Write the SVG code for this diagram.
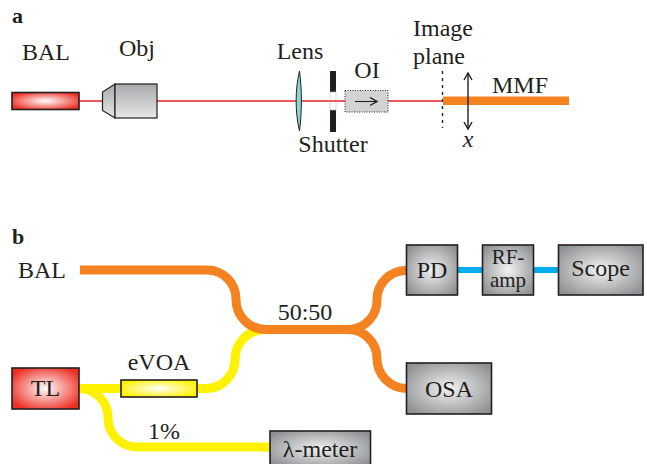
<svg xmlns="http://www.w3.org/2000/svg" width="647" height="464" viewBox="0 0 647 464">
<style>
text{font-family:"Liberation Serif","Times New Roman",serif;font-size:24px;fill:#231f20;text-anchor:middle}
.h{font-weight:bold;font-size:22px;text-anchor:start}
.box{stroke:#231f20;stroke-width:1.600;fill:url(#grey)}
.red{stroke:#231f20;stroke-width:1.600;fill:url(#redg)}
.f{fill:none;stroke-width:9}
.or{stroke:#f58220}.ye{stroke:#fff200}.bl{stroke:#00aeef;stroke-width:6;fill:none}
.beam{stroke:#e8222a;stroke-width:1.500;fill:none}
.k{stroke:#231f20;fill:none;stroke-width:1.400}
</style>
<defs>
<radialGradient id="grey" cx="50%" cy="50%" r="62%"><stop offset="0" stop-color="#f1f2f2"/><stop offset="1" stop-color="#8f9194"/></radialGradient>
<radialGradient id="redg" cx="50%" cy="50%" r="62%"><stop offset="0" stop-color="#fff"/><stop offset="0.95" stop-color="#ed2f24"/></radialGradient>
<radialGradient id="yg" cx="50%" cy="50%" r="60%"><stop offset="0" stop-color="#fff"/><stop offset="0.95" stop-color="#fff200"/></radialGradient>
<linearGradient id="og" x1="0" y1="0" x2="0" y2="1"><stop offset="0" stop-color="#a7a9ac"/><stop offset="1" stop-color="#e6e7e8"/></linearGradient>
<marker id="ah" markerWidth="10" markerHeight="10" refX="8" refY="5" orient="auto-start-reverse" markerUnits="userSpaceOnUse"><path d="M1 1L8 5L1 9" fill="none" stroke="#231f20" stroke-width="1.400"/></marker>
</defs>
<text class="h" x="12" y="23">a</text>
<text class="h" x="12" y="244">b</text>
<g id="connectors">
<path class="beam" d="M79 101H103M157 101H345M388 101H443"/>
<path class="f ye" d="M197 388.500H206A29 29 0 0 0 235 359.500A30 30 0 0 1 264 329.500"/>
<path class="f or" d="M80 270H207A29 29 0 0 1 236 299A30 30 0 0 0 266 329.500H348"/>
<path class="f or" d="M348 329.500A29 29 0 0 0 377 299.500A29 29 0 0 1 406 270.500"/>
<path class="f or" d="M348 329.500A29 29 0 0 1 377 358.500A30 30 0 0 0 406 388.500"/>
<path class="f ye" d="M79 388.500H121"/>
<path class="f ye" d="M79 388.500A29 29 0 0 1 108 418A29 29 0 0 0 138 447H270"/>
<path class="bl" d="M457 270H482M533 270H558"/>
</g>
<g id="bal-a"><rect class="red" x="12" y="92.500" width="67" height="17"/><text x="46" y="60">BAL</text></g>
<g id="obj"><path d="M115 84V118L102.500 110.500V92Z" fill="url(#og)" stroke="#231f20" stroke-width="1.200"/><rect x="115" y="84" width="42" height="34" fill="url(#og)" stroke="#231f20" stroke-width="1.200"/><text x="137" y="56">Obj</text></g>
<g id="lens"><path d="M299.500 71C295 90 295 112 299.500 131C302 112 302 90 299.500 71Z" fill="#8fd3d3" stroke="#231f20" stroke-width="1"/><text x="300" y="59">Lens</text></g>
<g id="shutter"><rect x="330" y="71" width="6" height="21" fill="#231f20"/><rect x="330" y="110" width="6" height="22" fill="#231f20"/><rect x="330" y="92" width="6" height="18" fill="#fff" stroke="#bcbec0" stroke-width="0.600"/><path class="beam" d="M330 101H336"/><text x="333" y="152">Shutter</text></g>
<g id="oi"><rect x="345" y="90.500" width="43" height="21.500" fill="#d1d3d4" stroke="#231f20" stroke-width="1" stroke-dasharray="1 1.500"/><path d="M355 101.500H377" stroke="#231f20" stroke-width="1.100" fill="none" marker-end="url(#ah)"/><text x="367" y="78">OI</text></g>
<g id="image-plane"><path d="M442.500 71V128" stroke="#231f20" stroke-width="1.400" stroke-dasharray="3 4" fill="none"/><text x="443" y="36">Image</text><text x="439" y="64">plane</text></g>
<g id="mmf"><rect x="443" y="96.500" width="126" height="8.500" fill="#f58220"/><text x="520" y="93">MMF</text></g>
<g id="x-axis"><path d="M468 73V129" class="k" marker-start="url(#ah)" marker-end="url(#ah)"/><text x="468" y="147" style="font-style:italic">x</text></g>
<g id="bal-b"><text x="42" y="278">BAL</text></g>
<g id="coupler"><text x="305" y="320">50:50</text></g>
<g id="tl"><rect class="red" x="12" y="368" width="67" height="41"/><text x="45.500" y="396">TL</text></g>
<g id="evoa"><rect x="121" y="380" width="76" height="17" fill="url(#yg)" stroke="#231f20" stroke-width="1.600"/><text x="159" y="370">eVOA</text></g>
<g id="tap"><text x="164" y="439">1%</text></g>
<g id="lambda"><rect class="box" x="270" y="431" width="100.500" height="36"/><text x="320" y="457">λ-meter</text></g>
<g id="pd"><rect class="box" x="406.500" y="245" width="51" height="50"/><text x="432" y="278">PD</text></g>
<g id="rf"><rect class="box" x="482.500" y="245" width="51" height="50"/><text x="508" y="264" style="font-size:21px">RF-</text><text x="508" y="287" style="font-size:21px">amp</text></g>
<g id="scope"><rect class="box" x="558.500" y="245" width="84.500" height="50"/><text x="600.500" y="276">Scope</text></g>
<g id="osa"><rect class="box" x="406.500" y="363" width="85" height="51"/><text x="449" y="397">OSA</text></g>
</svg>
